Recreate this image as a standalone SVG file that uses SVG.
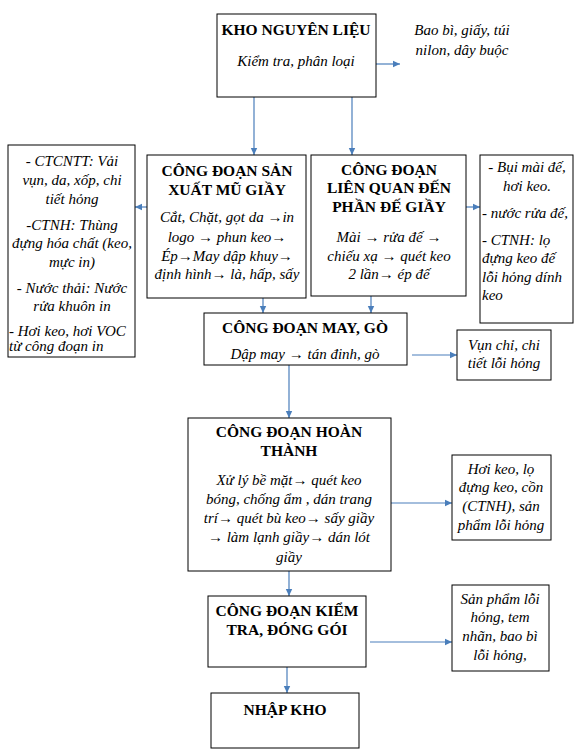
<svg xmlns="http://www.w3.org/2000/svg" width="583" height="756" viewBox="0 0 583 756">
<defs>
<style>
.box{fill:#fff;stroke:#000;stroke-width:1}
.t{font-size:15.5px;font-weight:bold;text-anchor:middle;fill:#000}
.i{font-size:15px;font-style:italic;text-anchor:middle;fill:#000}
.l{text-anchor:start}
.c{fill:none;stroke:#4A7EBB;stroke-width:1.2;marker-end:url(#ah)}
</style>
<marker id="ah" markerUnits="userSpaceOnUse" markerWidth="8" markerHeight="8" refX="7" refY="4" orient="auto">
<path d="M0,0.8 L7,4 L0,7.2 Z" fill="#4A7EBB"/>
</marker>
</defs>
<rect width="583" height="756" fill="#fff"/>

<g id="connectors">
<path class="c" d="M376,64 H400"/>
<path class="c" d="M254,97 V155"/>
<path class="c" d="M352,97 V155"/>
<path class="c" d="M147,207 H135"/>
<path class="c" d="M466,207 H480"/>
<path class="c" d="M263,298 V313"/>
<path class="c" d="M371,296 V313"/>
<path class="c" d="M412,355 H457"/>
<path class="c" d="M289,365 V418"/>
<path class="c" d="M391,503 H452"/>
<path class="c" d="M289,571 V596"/>
<path class="c" d="M370,642 H452"/>
<path class="c" d="M287,667 V693"/>
</g>

<g font-family="Liberation Serif, Times New Roman, Tinos, DejaVu Serif, serif">
<g id="kho">
<rect class="box" x="217" y="14" width="159" height="83"/>
<text class="t" x="296" y="35">KHO NGUYÊN LIỆU</text>
<text class="i" x="296" y="66">Kiểm tra, phân loại</text>
</g>

<g id="baobi">
<text class="i" x="462" y="35">Bao bì, giấy, túi</text>
<text class="i" x="462" y="55">nilon, dây buộc</text>
</g>

<g id="chatthai-trai">
<rect class="box" x="8" y="145" width="127" height="212"/>
<text class="i" x="72" y="166">-  CTCNTT: Vải</text>
<text class="i" x="72" y="185">vụn, da, xốp, chi</text>
<text class="i" x="72" y="204">tiết hỏng</text>
<text class="i" x="72" y="230">-CTNH: Thùng</text>
<text class="i" x="72" y="248">đựng hóa chất (keo,</text>
<text class="i" x="72" y="267">mực in)</text>
<text class="i" x="72" y="293">- Nước thải: Nước</text>
<text class="i" x="72" y="311">rửa khuôn in</text>
<text class="i l" x="9" y="336">- Hơi keo, hơi VOC</text>
<text class="i l" x="9" y="351">từ công đoạn in</text>
</g>

<g id="mugiay">
<rect class="box" x="147" y="155" width="159" height="143"/>
<text class="t" x="227" y="176">CÔNG ĐOẠN SẢN</text>
<text class="t" x="227" y="195">XUẤT MŨ GIẦY</text>
<text class="i" x="227" y="222">Cắt, Chặt, gọt da →in</text>
<text class="i" x="227" y="242">logo → phun keo→</text>
<text class="i" x="227" y="261">Ép→May dập khuy→</text>
<text class="i" x="227" y="279">định hình→ là, hấp, sấy</text>
</g>

<g id="degiay">
<rect class="box" x="311" y="155" width="155" height="141"/>
<text class="t" x="389" y="175">CÔNG ĐOẠN</text>
<text class="t" x="389" y="193">LIÊN QUAN ĐẾN</text>
<text class="t" x="389" y="212">PHẦN ĐẾ GIẦY</text>
<text class="i" x="389" y="242">Mài → rửa đế →</text>
<text class="i" x="389" y="261">chiếu xạ → quét keo</text>
<text class="i" x="389" y="279">2 lần→ ép đế</text>
</g>

<g id="chatthai-de">
<rect class="box" x="480" y="155" width="93" height="168"/>
<text class="i" x="527" y="172">- Bụi mài đế,</text>
<text class="i" x="527" y="191">hơi keo.</text>
<text class="i l" x="482" y="218">- nước rửa đế,</text>
<text class="i l" x="482" y="245">- CTNH: lọ</text>
<text class="i l" x="482" y="263">đựng keo đế</text>
<text class="i l" x="482" y="282">lỗi hỏng dính</text>
<text class="i l" x="482" y="300">keo</text>
</g>

<g id="maygo">
<rect class="box" x="204" y="313" width="203" height="52"/>
<text class="t" x="305" y="333">CÔNG ĐOẠN MAY, GÒ</text>
<text class="i" x="305" y="359">Dập may → tán đinh, gò</text>
</g>

<g id="vunchi">
<rect class="box" x="457" y="330" width="94" height="50"/>
<text class="i" x="504" y="350">Vụn chỉ, chi</text>
<text class="i" x="504" y="368">tiết lỗi hỏng</text>
</g>

<g id="hoanthanh">
<rect class="box" x="188" y="418" width="203" height="153"/>
<text class="t" x="289" y="437">CÔNG ĐOẠN HOÀN</text>
<text class="t" x="289" y="456">THÀNH</text>
<text class="i" x="289" y="485">Xử lý bề mặt→ quét keo</text>
<text class="i" x="289" y="504">bóng, chống ẩm , dán trang</text>
<text class="i" x="289" y="523">trí→ quét bù keo→ sấy giầy</text>
<text class="i" x="289" y="542">→ làm lạnh giầy→ dán lót</text>
<text class="i" x="289" y="562">giầy</text>
</g>

<g id="hoikeo">
<rect class="box" x="452" y="455" width="99" height="85"/>
<text class="i" x="501" y="474">Hơi keo, lọ</text>
<text class="i" x="501" y="492">đựng keo, cồn</text>
<text class="i" x="501" y="511">(CTNH), sản</text>
<text class="i" x="501" y="530">phẩm lỗi hỏng</text>
</g>

<g id="kiemtra">
<rect class="box" x="208" y="596" width="158" height="71"/>
<text class="t" x="287" y="616">CÔNG ĐOẠN KIỂM</text>
<text class="t" x="287" y="635">TRA, ĐÓNG GÓI</text>
</g>

<g id="sanphamloi">
<rect class="box" x="452" y="585" width="97" height="86"/>
<text class="i" x="500" y="604">Sản phẩm lỗi</text>
<text class="i" x="500" y="622">hỏng, tem</text>
<text class="i" x="500" y="641">nhãn, bao bì</text>
<text class="i" x="500" y="660">lỗi hỏng,</text>
</g>

<g id="nhapkho">
<rect class="box" x="211" y="693" width="148" height="55"/>
<text class="t" x="285" y="715">NHẬP KHO</text>
</g>
</g>
</svg>
